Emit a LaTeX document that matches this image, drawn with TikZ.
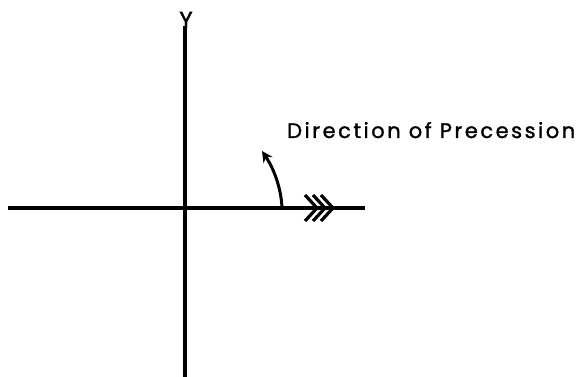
\documentclass[tikz,border=0pt]{standalone}
\usepackage{fontspec}
\setmainfont{Poppins}
\usetikzlibrary{arrows.meta}
\begin{document}
\begin{tikzpicture}[x=1pt,y=-1pt,
  axis/.style={line width=3.2pt},
  chev/.style={line width=3.2pt},
  lbl/.style={inner sep=0pt, anchor=base west, font=\fontsize{21}{24}\selectfont\addfontfeatures{LetterSpace=12,FakeBold=1.3}}]
\useasboundingbox (0,0) rectangle (586,377);
% axes
\coordinate (xl) at (8,208);
\coordinate (xr) at (365,208);
\coordinate (yt) at (185,26);
\coordinate (yb) at (185,377);
\draw[axis] (xl) -- (xr);
\draw[axis] (yt) -- (yb);
% Y label
\node[inner sep=0pt, anchor=south, font=\fontsize{23}{25}\selectfont\addfontfeatures{FakeBold=1.5}] (ylab) at (186,28) {Y};
% triple chevrons
\foreach \t in {317,325,333}{
  \draw[chev] (\t-12,195) -- (\t,208) -- (\t-12,221);
}
% curved precession arrow
\coordinate (pa) at (282,208);
\coordinate (pb) at (262,151);
\draw[line width=3pt, -{Stealth[length=11pt,width=11pt]}] (pa) .. controls (281,185) and (272,166) .. (pb);
% label
\node[lbl] (dir) at (287,138) {Direction of Precession};
\end{tikzpicture}
\end{document}
